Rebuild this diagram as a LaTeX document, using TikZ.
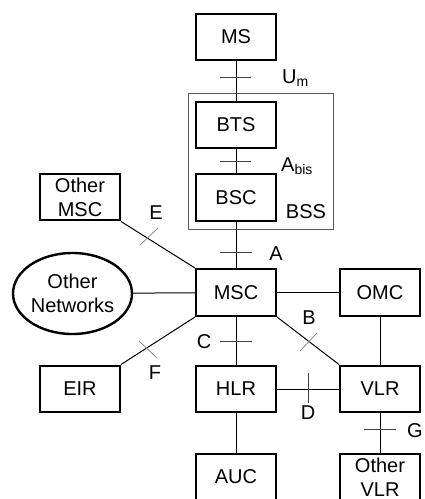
\documentclass[tikz,border=0pt]{standalone}
\usepackage{fontspec}
\setmainfont{Liberation Sans}
\usetikzlibrary{shapes.geometric}
\begin{document}
\begin{tikzpicture}[x=1pt,y=-1pt,
  every node/.style={font=\fontsize{20}{24}\selectfont},
  box/.style={draw, line width=2.4pt, minimum width=79.5pt, minimum height=46.5pt, inner sep=0pt, align=center},
  oval/.style={draw, ellipse, line width=2.4pt, minimum width=119pt, minimum height=81pt, inner sep=0pt, align=center},
  link/.style={line width=1pt},
  tickh/.style={line width=0.9pt, black!75},
  tickd/.style={line width=0.8pt, black!45},
  lab/.style={inner sep=0pt}
]
\useasboundingbox (0,0) rectangle (425,499);
% BSS frame
\node (bss) [draw, black!65, line width=0.9pt, minimum width=145pt, minimum height=136pt, inner sep=0pt] at (260.5,161) {};
% nodes
\node (ms)   [box] at (236,37)  {MS};
\node (bts)  [box] at (236,125) {BTS};
\node (bsc)  [box] at (236,197.5) {BSC};
\node (msc)  [box] at (236,292.5) {MSC};
\node (hlr)  [box] at (236,389) {HLR};
\node (auc)  [box] at (236,477) {AUC};
\node (omc)  [box] at (380,292.5) {OMC};
\node (vlr)  [box] at (380,389) {VLR};
\node (ovlr) [box] at (380,477) {Other\\VLR};
\node (omsc) [box] at (80,197) {Other\\MSC};
\node (eir)  [box] at (80,389) {EIR};
\node (onet) [oval] at (72.5,293.5) {Other\\Networks};
% connectors
\draw[link] (ms) -- (bts);
\draw[link] (bts) -- (bsc);
\draw[link] (bsc) -- (msc);
\draw[link] (msc) -- (hlr);
\draw[link] (hlr) -- (auc);
\draw[link] (msc) -- (omc);
\draw[link] (omc) -- (vlr);
\draw[link] (vlr) -- (ovlr);
\draw[link] (hlr) -- (vlr);
\draw[link] (onet) -- (msc);
\draw[link] (msc.north west) -- (omsc.south east);
\draw[link] (msc.south west) -- (eir.north east);
\draw[link] (msc.south east) -- (vlr.north west);
% ticks
\draw[tickh] (220,77) -- (251,77);
\draw[tickh] (220,161) -- (251,161);
\draw[tickh] (220,252) -- (252,252);
\draw[tickh] (220,341) -- (252,341);
\draw[tickh] (364,429) -- (396,429);
\draw[tickh] (308,373) -- (308,403);
\draw[tickd] (140,245) -- (158,228);
\draw[tickd] (300,351) -- (317,333);
\draw[tickd] (139,341) -- (157,358);
% labels
\node (lum)  [lab, anchor=west] at (282,78) {U\textsubscript{m}};
\node (labis)[lab, anchor=west] at (281,166) {A\textsubscript{bis}};
\node (lbss) [lab] at (306,212) {BSS};
\node (la)   [lab] at (276,254) {A};
\node (le)   [lab] at (156,213) {E};
\node (lb)   [lab] at (309,318) {B};
\node (lc)   [lab] at (204,342) {C};
\node (ld)   [lab] at (308,413) {D};
\node (lf)   [lab] at (155,373) {F};
\node (lg)   [lab] at (415,431) {G};
\end{tikzpicture}
\end{document}
